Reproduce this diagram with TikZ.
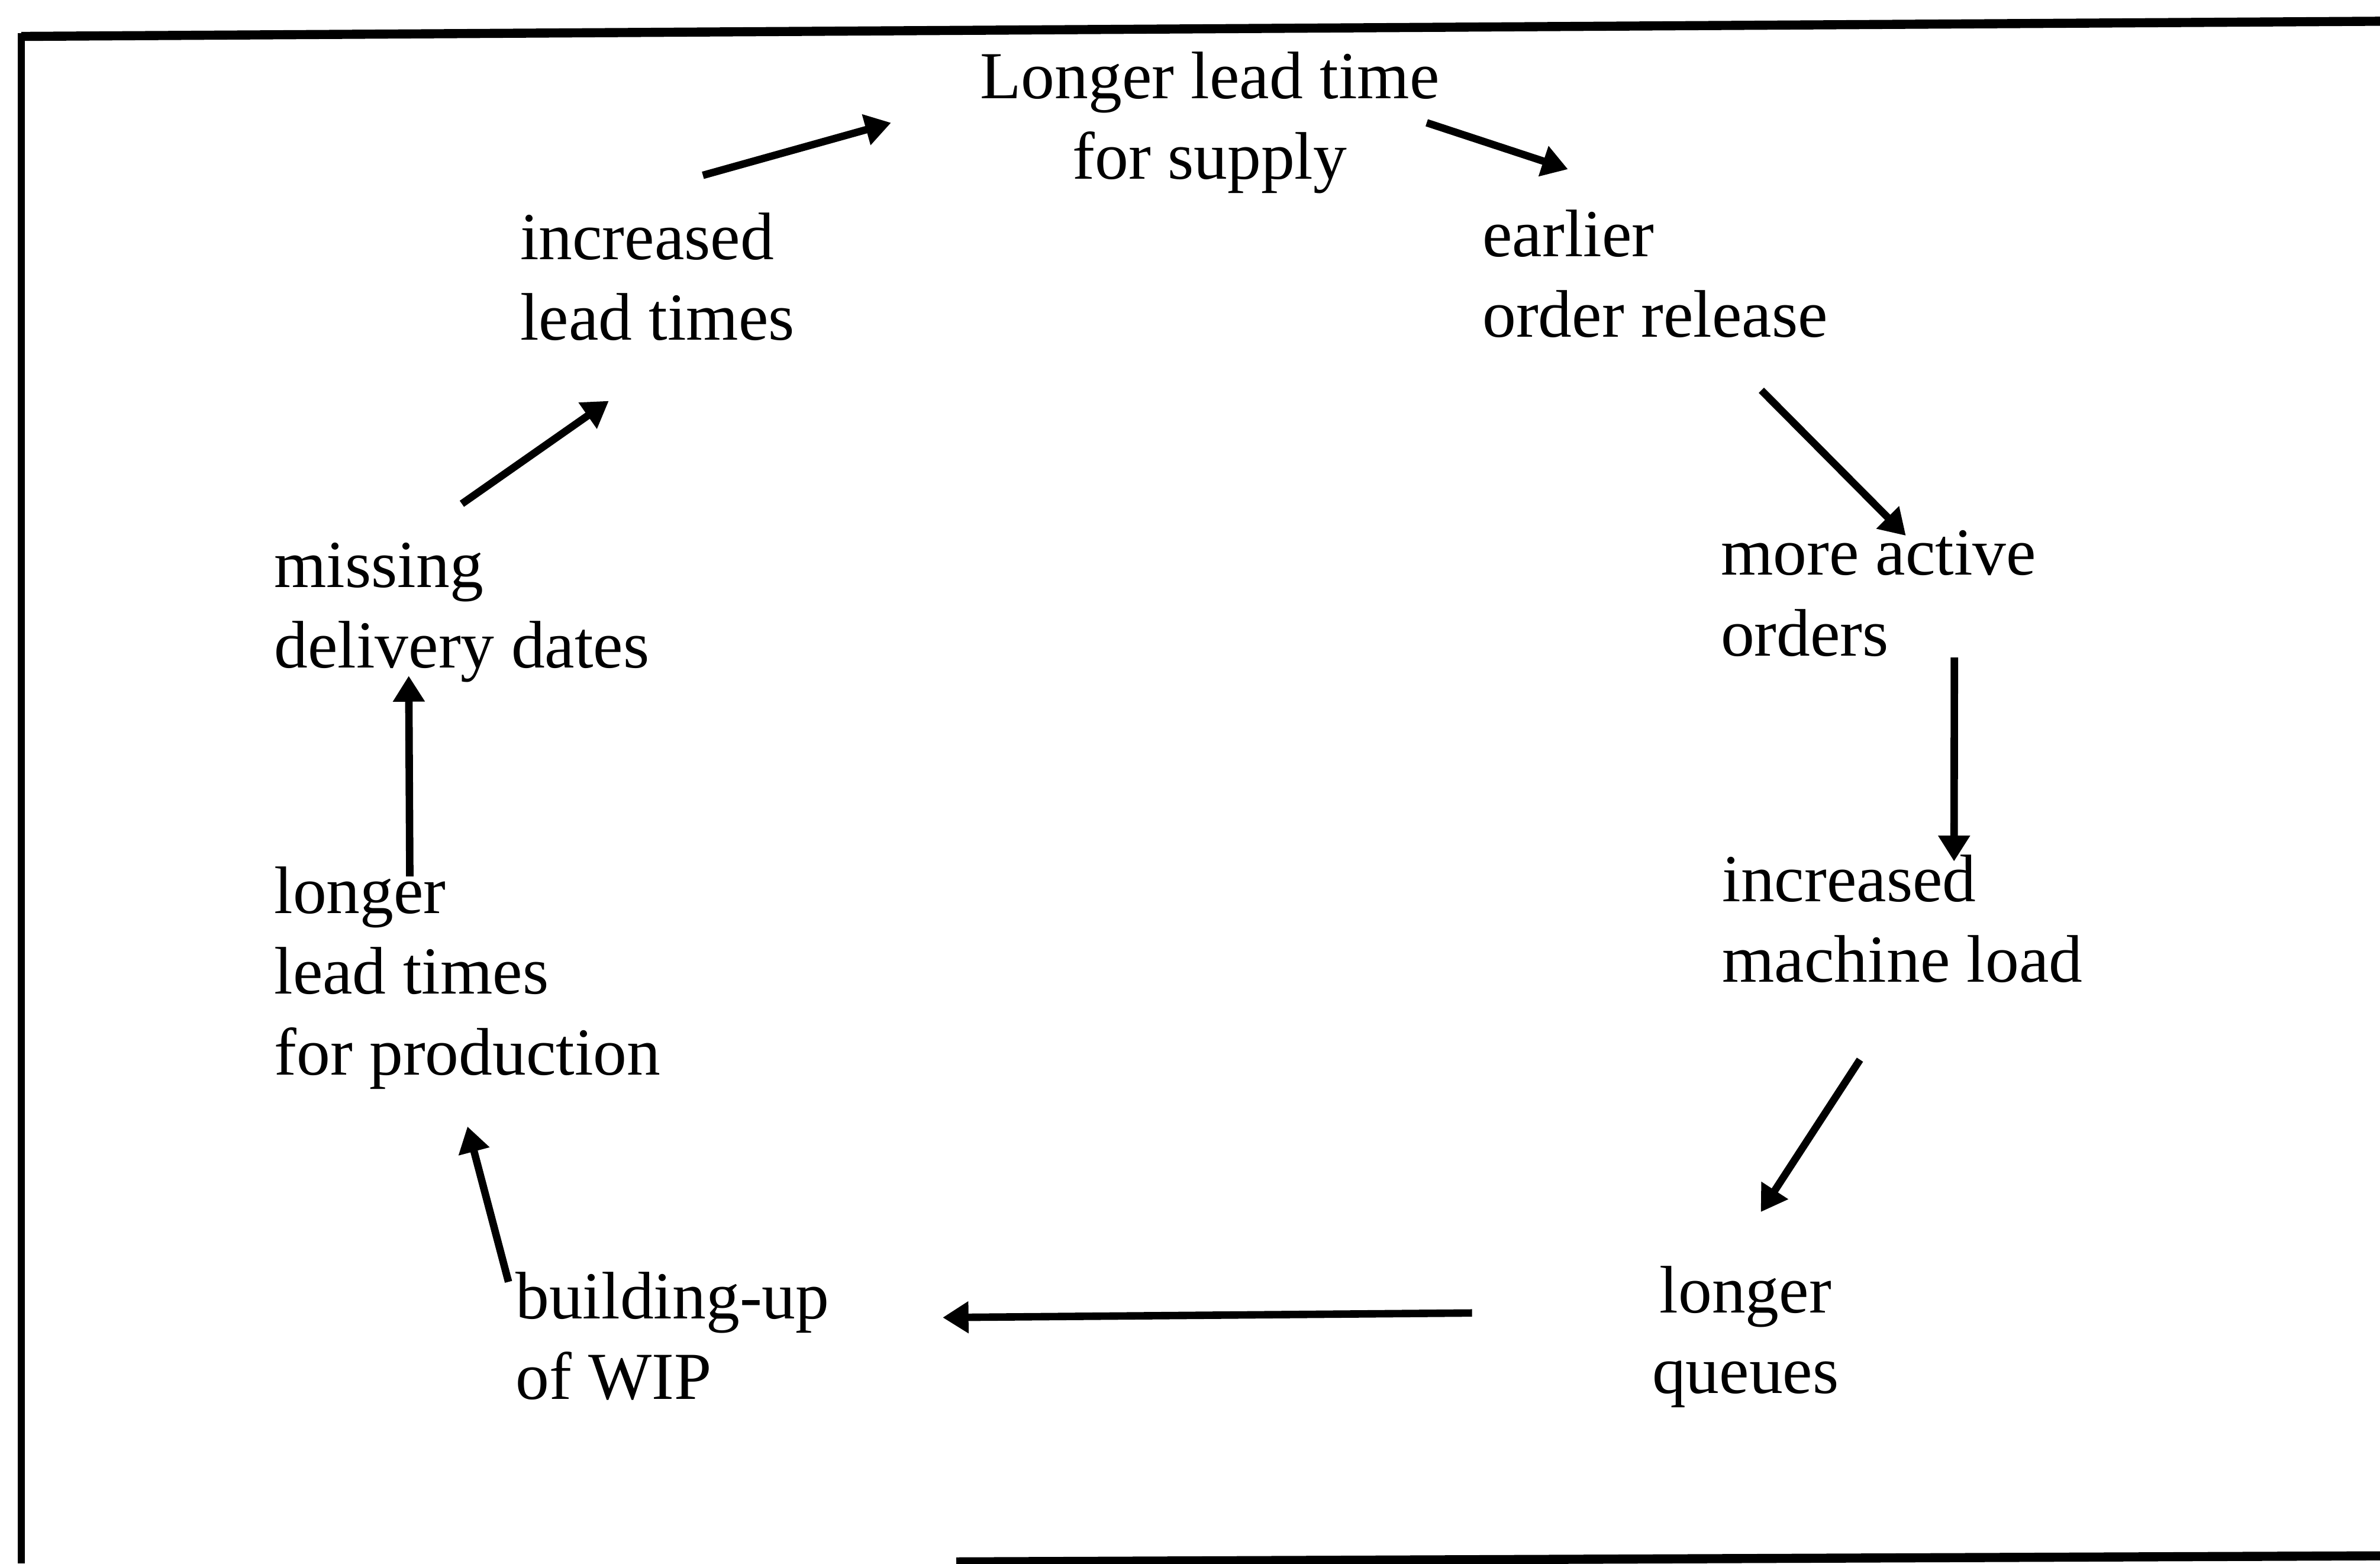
\documentclass[tikz,border=0pt]{standalone}
\usepackage{fontspec}
\setmainfont{Liberation Serif}
\usepackage{tikz}
\usetikzlibrary{arrows.meta, positioning}
\tikzstyle{item} = [align=left, anchor=base west, inner sep=0pt,
    font=\fontsize{12.6}{15.1}\selectfont]
\tikzstyle{cause} = [line width=1.4pt,
    -{Triangle[length=0.17cm, width=0.2cm]}]
\tikzstyle{frame} = [line width=0.06cm]

\begin{document}
\begin{tikzpicture}
    \useasboundingbox (0,0) rectangle (15.68,10.30);
        \draw[frame] (0.14,10.06) -- (15.68,10.16);
        \draw[frame, line width=0.045cm] (0.14,10.08) -- (0.14,0);
        \draw[frame] (6.30,0.01) -- (15.68,0.05);

        \node[item, align=center, anchor=base] at (7.97,9.12) (supply) {Longer lead time \\ for supply};
        \node[item] at (3.42,8.06) (incLead) {increased \\ lead times};
        \node[item] at (9.76,8.08) (earlier) {earlier \\ order release};
        \node[item] at (11.33,5.98) (active) {more active \\ orders};
        \node[item] at (11.34,3.83) (machine) {increased \\ machine load};
        \node[item, align=center, anchor=base] at (11.50,1.12) (queues) {longer \\ queues};
        \node[item] at (3.39,1.08) (wip) {building-up \\ of WIP};
        \node[item] at (1.80,3.22) (prodLead) {longer \\ lead times \\ for production};
        \node[item] at (1.80,5.90) (missing) {missing \\ delivery dates};

		\draw[cause] ([xshift=0.30cm,yshift=0.24cm]incLead.north) -- ([xshift=-0.58cm]supply.west);
		\draw[cause] ([xshift=-0.09cm]supply.east) -- ([xshift=0.57cm,yshift=0.26cm]earlier.north west);
		\draw[cause] ([xshift=0.70cm,yshift=-0.34cm]earlier.south) -- ([xshift=0.18cm,yshift=-0.04cm]active.north);
		\draw[cause] ([xshift=0.50cm]active.south) -- ([xshift=0.34cm,yshift=-0.05cm]machine.north);
		\draw[cause] ([xshift=-0.28cm,yshift=-0.50cm]machine.south) -- ([xshift=0.10cm,yshift=0.35cm]queues.north);
		\draw[cause] ([xshift=-1.18cm,yshift=0.53cm]queues.base west) -- ([xshift=0.74cm,yshift=0.54cm]wip.base east);
		\draw[cause] ([xshift=-0.04cm,yshift=-0.07cm]wip.north west) -- ([yshift=-0.24cm]prodLead.south);
		\draw[cause] ([xshift=-0.38cm,yshift=-0.07cm]prodLead.north) -- ([xshift=-0.35cm,yshift=0.05cm]missing.south);
		\draw[cause] ([yshift=0.25cm]missing.north) -- ([xshift=-0.32cm,yshift=-0.39cm]incLead.south);
\end{tikzpicture}
\end{document}
